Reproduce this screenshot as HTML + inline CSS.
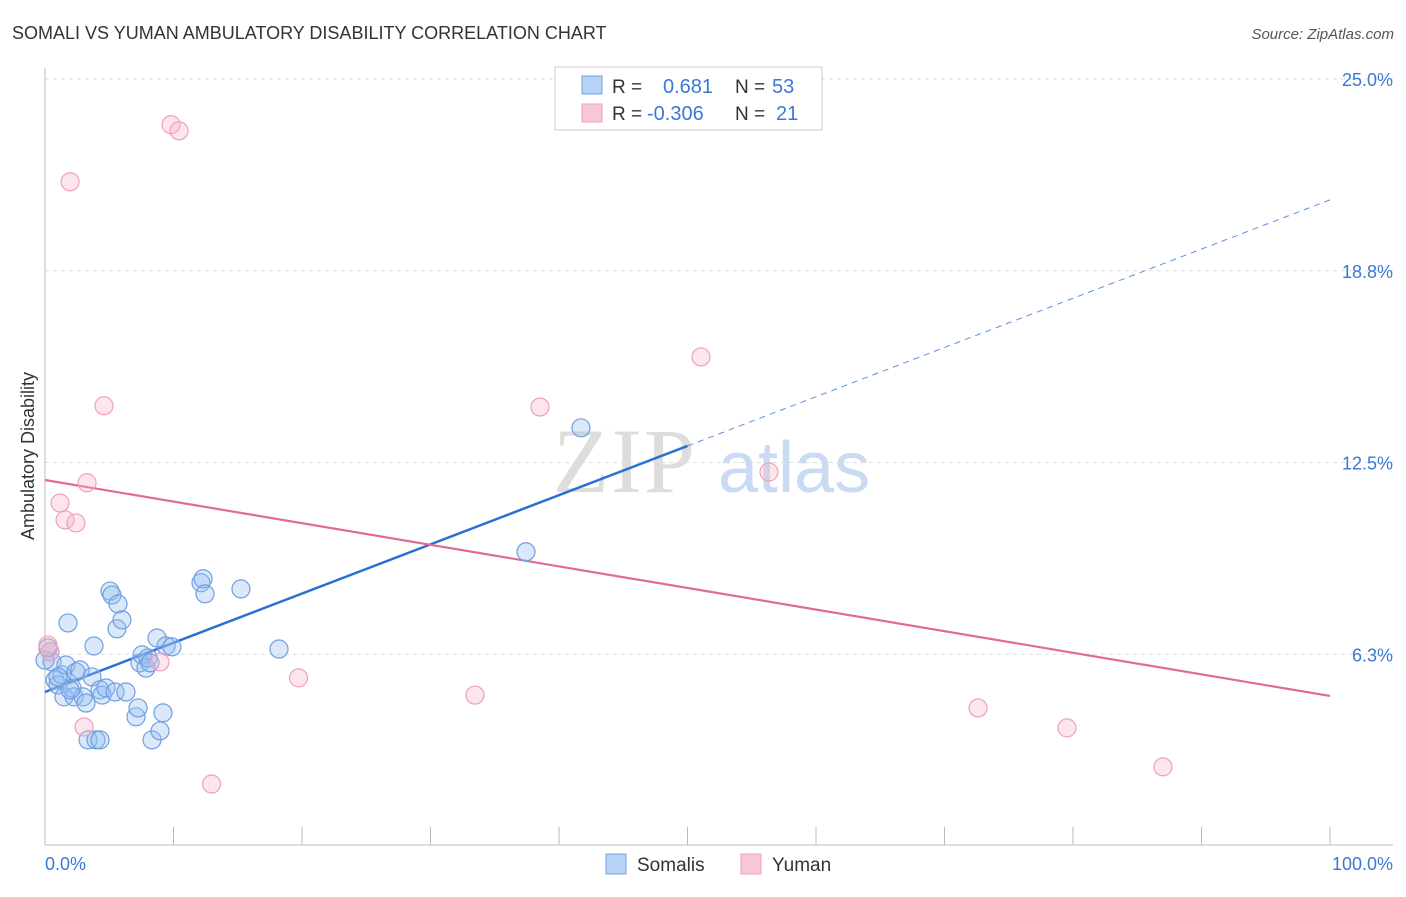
<!DOCTYPE html>
<html><head><meta charset="utf-8"><style>
body{margin:0;background:#fff;font-family:"Liberation Sans",sans-serif;}
</style></head><body>
<svg id="chart" width="1406" height="892" xmlns="http://www.w3.org/2000/svg" font-family="Liberation Sans, sans-serif">
<text x="12" y="39" font-size="18" fill="#333">SOMALI VS YUMAN AMBULATORY DISABILITY CORRELATION CHART</text>
<text x="1394" y="39" font-size="15" fill="#555" text-anchor="end" font-style="italic">Source: ZipAtlas.com</text>
<text transform="translate(34,456) rotate(-90)" font-size="18" fill="#333" text-anchor="middle">Ambulatory Disability</text>
<g>
<text x="553" y="492" font-size="92" fill="#ddd" font-family="Liberation Serif, serif" letter-spacing="2">ZIP</text>
<text x="718" y="492" font-size="72" fill="#c9daf2">atlas</text>
</g>
<g id="grid"></g><g id="axes"></g><g id="trends"></g><g id="pts"></g>
<g>
<rect x="555" y="67" width="267" height="63" fill="#fff" stroke="#ccc"/>
<rect x="582" y="76" width="20" height="18" fill="#b7d2f5" stroke="#6fa0e0"/>
<rect x="582" y="104" width="20" height="18" fill="#f9c8d6" stroke="#f0a0b8"/>
<text x="612" y="93" font-size="19" fill="#333">R =</text>
<text x="663" y="93" font-size="20" fill="#3a78d8">0.681</text>
<text x="735" y="93" font-size="19" fill="#333">N =</text>
<text x="772" y="93" font-size="20" fill="#3a78d8">53</text>
<text x="612" y="120" font-size="19" fill="#333">R =</text>
<text x="647" y="120" font-size="20" fill="#3a78d8">-0.306</text>
<text x="735" y="120" font-size="19" fill="#333">N =</text>
<text x="776" y="120" font-size="20" fill="#3a78d8">21</text>
</g>
<g>
<rect x="606" y="854" width="20" height="20" fill="#b7d2f5" stroke="#6fa0e0"/>
<text x="637" y="871" font-size="19" fill="#333">Somalis</text>
<rect x="741" y="854" width="20" height="20" fill="#f9c8d6" stroke="#f0a0b8"/>
<text x="772" y="871" font-size="19" fill="#333">Yuman</text>
</g>
</svg>
<script>
const yTicks=[25,18.75,12.5,6.25];
const yTickLabels=["25.0%","18.8%","12.5%","6.3%"];
const xTickLabels=["0.0%","100.0%"];
const somaliX=[0.39,0.54,0.23,0.78,1.01,1.32,1.48,1.63,1.79,2.10,2.26,2.41,2.72,2.96,3.19,3.35,3.66,3.81,3.97,4.28,4.44,4.75,5.06,5.21,5.45,5.60,5.68,5.99,6.30,7.08,7.24,7.39,7.55,7.86,8.02,8.33,8.17,8.72,8.95,9.18,9.42,9.88,12.14,12.30,12.45,15.25,18.21,37.43,41.71,1.01,1.95,0,4.28];
const somaliY=[6.33,6.00,6.46,5.41,5.25,5.58,4.86,5.90,7.27,5.15,4.86,5.67,5.74,4.86,4.66,3.46,5.51,6.52,3.46,5.09,4.92,5.15,8.31,8.18,5.02,7.08,7.89,7.37,5.02,4.21,4.50,5.97,6.23,5.80,6.13,3.46,5.97,6.78,3.75,4.34,6.52,6.49,8.58,8.71,8.22,8.38,6.42,9.59,13.63,5.51,5.09,6.06,3.46];
const yumanX=[0.23,0.39,1.17,1.56,1.95,2.41,3.04,3.27,4.59,8.95,9.81,10.43,12.96,19.73,33.46,38.52,51.05,56.34,72.61,79.53,87.00];
const yumanY=[6.55,6.33,11.18,10.63,21.65,10.53,3.88,11.84,14.35,6.00,23.51,23.31,2.02,5.48,4.92,14.31,15.94,12.19,4.50,3.85,2.58];
const somaliTrend=[5.02,21.06];
const yumanTrend=[11.93,4.89];
const NS="http://www.w3.org/2000/svg";
const sx=v=>45+v*12.85, sy=v=>846-v*30.68;
function mk(tag,attrs,parent){const e=document.createElementNS(NS,tag);for(const k in attrs)e.setAttribute(k,attrs[k]);document.getElementById(parent).appendChild(e);return e;}
yTicks.forEach((t,i)=>{
 const g=mk('line',{x1:45,x2:1393,y1:sy(t),y2:sy(t),stroke:'#ddd','stroke-dasharray':'4,4'},'grid');
 
 
 const l=mk('text',{x:1393,y:sy(t)+7,'font-size':18,fill:'#3a78d8','text-anchor':'end'},'axes');
 l.textContent=yTickLabels[i];
 
 
});
let a=mk('line',{x1:45,x2:45,y1:68,y2:845,stroke:'#bbb'},'axes');


a=mk('line',{x1:45,x2:1393,y1:845,y2:845,stroke:'#bbb'},'axes');


for(let i=0;i<=10;i++){const t=mk('line',{x1:sx(i*10),x2:sx(i*10),y1:827,y2:845,stroke:'#bbb'},'axes');
 
 }
[[0,'start',45],[100,'end',1393]].forEach((d,i)=>{const t=mk('text',{x:d[2],y:870,'font-size':18,fill:'#3a78d8','text-anchor':d[1]},'axes');t.textContent=xTickLabels[i];
 
 });
function pts(X,Y,fill,stroke,name){X.forEach((x,i)=>{const c=mk('circle',{cx:sx(x),cy:sy(Y[i]),r:9,fill:fill,stroke:stroke,'stroke-width':1.2},'pts');
 
 });}
pts(somaliX,somaliY,'rgba(150,190,240,0.35)','#6fa0e0','somali-point');
pts(yumanX,yumanY,'rgba(248,180,200,0.35)','#f0a0b8','yuman-point');
const sm=somaliTrend[0]+(somaliTrend[1]-somaliTrend[0])*0.5;
let t=mk('line',{x1:sx(0),y1:sy(somaliTrend[0]),x2:sx(50),y2:sy(sm),stroke:'#2a6fd6','stroke-width':2.5},'trends');


t=mk('line',{x1:sx(50),y1:sy(sm),x2:sx(100),y2:sy(somaliTrend[1]),stroke:'#5a90e0','stroke-width':1,'stroke-dasharray':'6,5'},'trends');


t=mk('line',{x1:sx(0),y1:sy(yumanTrend[0]),x2:sx(100),y2:sy(yumanTrend[1]),stroke:'#e26a95','stroke-width':2.2},'trends');


</script>
</body></html>
